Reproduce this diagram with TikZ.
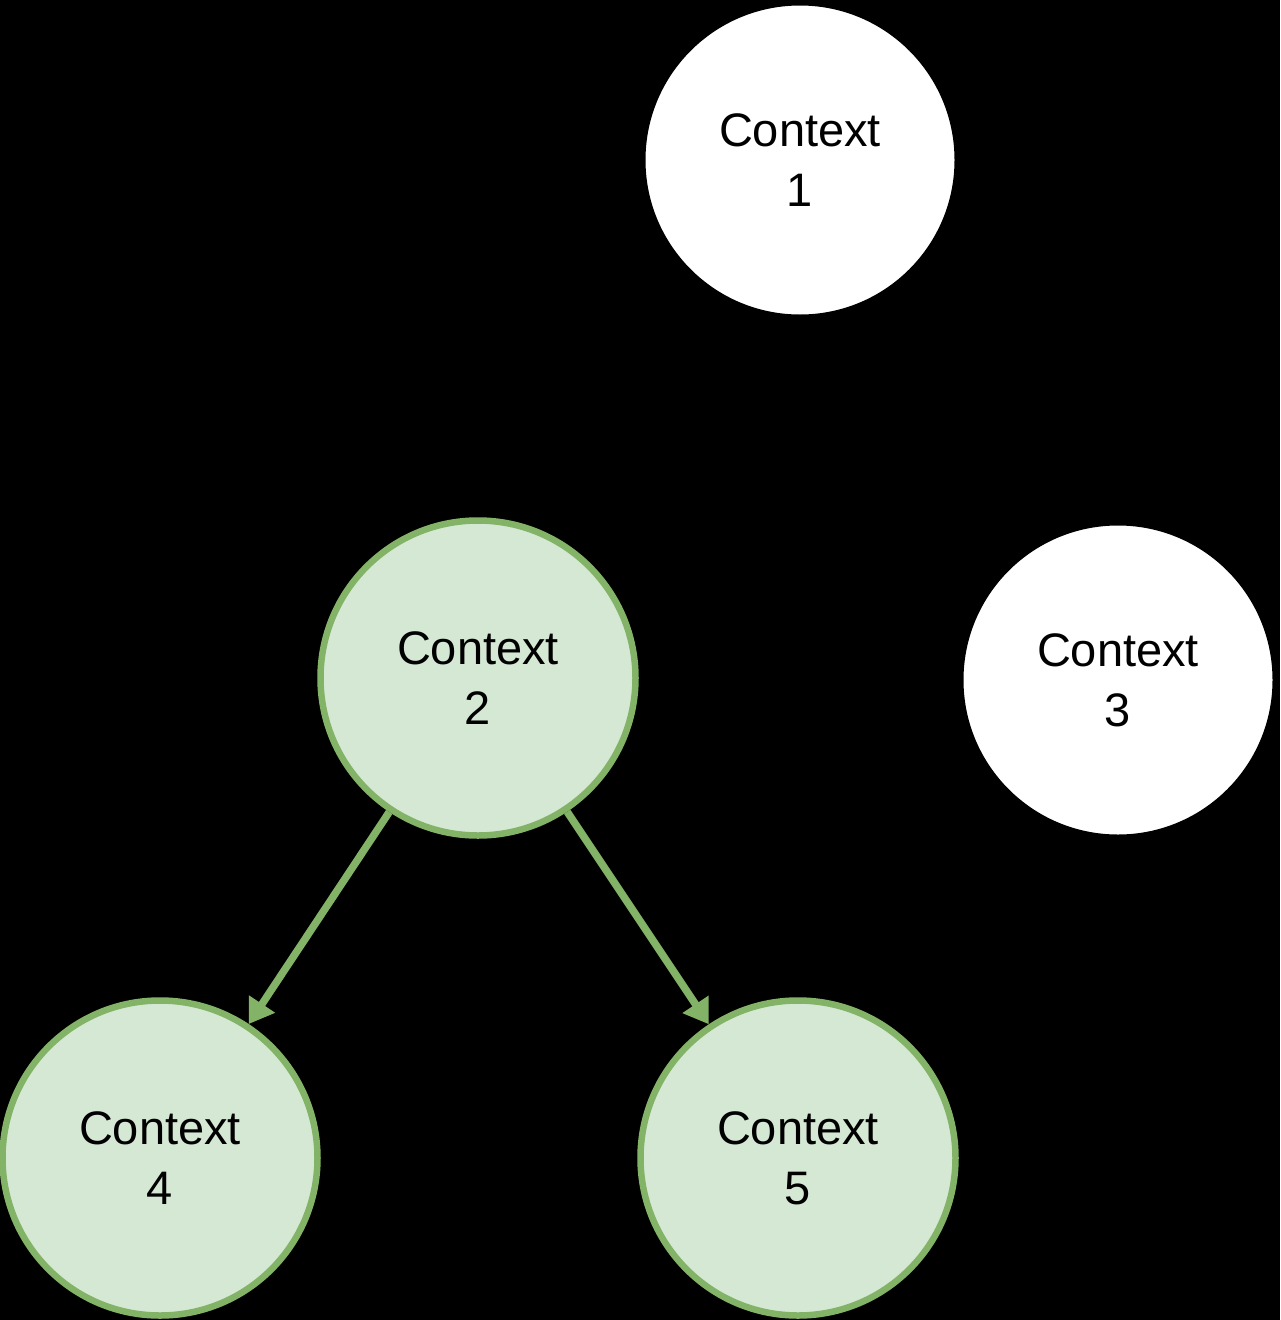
\documentclass[tikz,border=0pt]{standalone}
\usepackage{fontspec}
\setmainfont{Liberation Sans}
\usetikzlibrary{arrows.meta}
\definecolor{gfill}{HTML}{D5E8D4}
\definecolor{gline}{HTML}{82B366}
\tikzset{
  ctx/.style={circle, minimum size=315pt, inner sep=0pt, align=center,
    font=\fontsize{47}{60}\selectfont, text=black},
  whitectx/.style={ctx, fill=white, draw=black, line width=6pt},
  greenctx/.style={ctx, fill=gfill, draw=gline, line width=6.5pt},
  link/.style={draw=gline, line width=7.5pt, -{Triangle[length=24pt,width=30pt]}}
}
\begin{document}
\begin{tikzpicture}[x=1pt,y=-1pt]
\fill[black] (0,0) rectangle (1280,1320);
\useasboundingbox (0,0) rectangle (1280,1320);
\node[whitectx] (c1) at (800,160) {Context\\1};
\node[greenctx] (c2) at (478,678) {Context\\2};
\node[whitectx] (c3) at (1118,680) {Context\\3};
\node[greenctx] (c4) at (160,1158) {Context\\4};
\node[greenctx] (c5) at (798,1158) {Context\\5};
\draw[link] (c2) -- (c4);
\draw[link] (c2) -- (c5);
\end{tikzpicture}
\end{document}
